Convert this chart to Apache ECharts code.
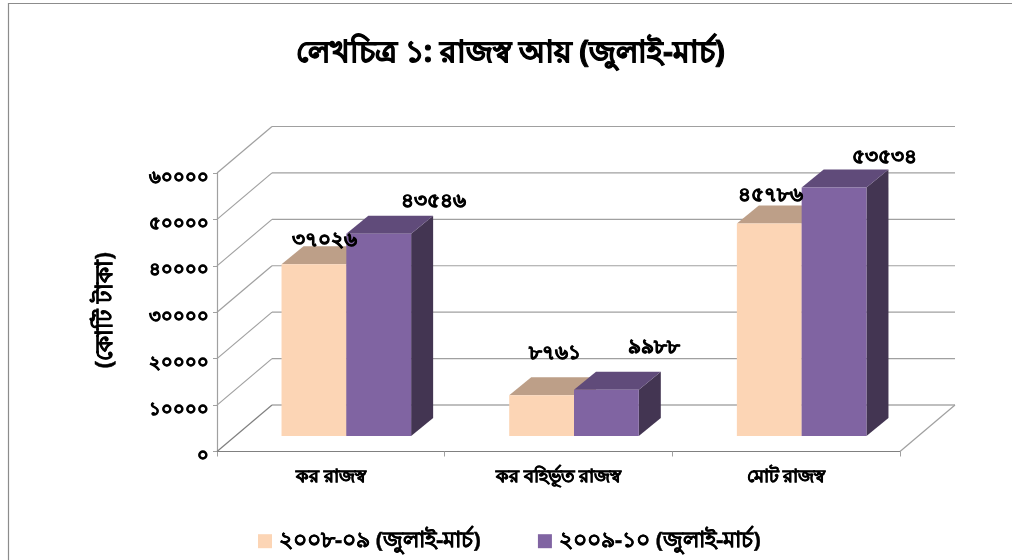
<!DOCTYPE html>
<html><head><meta charset="utf-8">
<style>html,body{margin:0;padding:0;background:#fff}#c{width:1012px;height:560px}</style>
<script src="https://cdn.jsdelivr.net/npm/echarts@6/dist/echarts.min.js"></script>
</head><body><div id="c"></div>
<script>
const categories = ['কর রাজস্ব', 'কর বহির্ভূত রাজস্ব', 'মোট রাজস্ব'];
const seriesNames = ['২০০৮-০৯ (জুলাই-মার্চ)', '২০০৯-১০ (জুলাই-মার্চ)'];
const values0809 = [37026, 8761, 45786];
const values0910 = [43546, 9988, 53534];
const labels0809 = ['৩৭০২৬', '৮৭৬১', '৪৫৭৮৬'];
const labels0910 = ['৪৩৫৪৬', '৯৯৮৮', '৫৩৫৩৪'];
const yTickValues = [0, 10000, 20000, 30000, 40000, 50000, 60000];
const yTickLabels = ['০', '১০০০০', '২০০০০', '৩০০০০', '৪০০০০', '৫০০০০', '৬০০০০'];
const titleText = 'লেখচিত্র ১: রাজস্ব আয় (জুলাই-মার্চ)';
const yAxisName = '(কোটি টাকা)';

const FONT = '"Noto Sans","Noto Sans CJK SC","DejaVu Sans",sans-serif';
const WALL = {dx: 55, dy: -46.5};
const BAR = {shift: 15.5, width: 64.8, depthX: 22, depthY: -18};
const GRID_COLOR = '#a0a0a0';
const labelNudge = [[[0, -6], [2, -24], [-10, -10]], [[44, -15], [36.5, -24], [39, -12]]];
const heavy = w => ({textBorderColor: '#000', textBorderWidth: w});

function renderWall(params, api) {
  const v = api.value(0);
  const p0 = api.coord([0, v]);
  const band = api.size([1, 0])[0];
  const left = p0[0] - band / 2;
  const right = left + band * 3;
  const y = p0[1];
  const style = {stroke: v === 0 ? '#808080' : GRID_COLOR, lineWidth: 1.2, fill: null};
  const children = [
    {type: 'line', shape: {x1: left, y1: y, x2: left + WALL.dx, y2: y + WALL.dy}, style},
    {type: 'line', shape: {x1: left + WALL.dx, y1: y + WALL.dy, x2: right + WALL.dx, y2: y + WALL.dy}, style}
  ];
  if (v === 0) children.push({type: 'line', shape: {x1: right, y1: y, x2: right + WALL.dx, y2: y + WALL.dy}, style: {stroke: GRID_COLOR, lineWidth: 1.2, fill: null}});
  return {type: 'group', children};
}

function makeBar(seriesIdx, front, top, side) {
  return function (params, api) {
    const cat = api.value(0), val = api.value(1);
    const c = api.coord([cat, val]);
    const b = api.coord([cat, 0]);
    const x0 = c[0] + BAR.shift + (seriesIdx === 0 ? -BAR.width : 0);
    const x1 = x0 + BAR.width;
    const yT = c[1] - BAR.shift, yB = b[1] - BAR.shift;
    const dx = BAR.depthX, dy = BAR.depthY;
    return {type: 'group', children: [
      {type: 'polygon', shape: {points: [[x1, yT], [x1 + dx, yT + dy], [x1 + dx, yB + dy], [x1, yB]]}, style: {fill: side}},
      {type: 'polygon', shape: {points: [[x0, yT], [x1, yT], [x1 + dx, yT + dy], [x0 + dx, yT + dy]]}, style: {fill: top}},
      {type: 'rect', shape: {x: x0, y: yT, width: BAR.width, height: yB - yT}, style: {fill: front}}
    ]};
  };
}

function makeLabel(seriesIdx, texts) {
  return function (params, api) {
    const cat = api.value(0), val = api.value(1);
    const c = api.coord([cat, val]);
    const n = labelNudge[seriesIdx][cat];
    const x0 = c[0] + BAR.shift + (seriesIdx === 0 ? -BAR.width / 2 : BAR.width / 2) + BAR.depthX / 2;
    const y = c[1] - BAR.shift + BAR.depthY;
    return {type: 'text', style: {x: x0 + n[0], y: y + n[1], text: texts[cat], fill: '#000', font: 'bold 20px ' + FONT, textAlign: 'center', textVerticalAlign: 'middle', stroke: '#000', lineWidth: 0.8}};
  };
}

const rows = a => a.map((v, i) => [i, v]);
const chart = echarts.init(document.getElementById('c'), null, {renderer: 'canvas'});
chart.setOption({
  animation: false,
  backgroundColor: '#fff',
  title: {text: titleText, left: 505.5, top: 34, textAlign: 'center', textStyle: {fontFamily: FONT, fontSize: 29.7, fontWeight: 'bold', color: '#000', ...heavy(1)}},
  legend: {left: 253, top: 525, itemWidth: 14, itemHeight: 14, itemGap: 57, icon: 'rect', data: seriesNames, textStyle: {fontFamily: FONT, fontSize: 22, fontWeight: 'bold', color: '#000', padding: [0, 0, 0, 2], ...heavy(0.4)}},
  grid: {left: 217, top: 173, width: 683, height: 278.5, containLabel: false},
  xAxis: {type: 'category', data: categories, axisLine: {lineStyle: {color: '#808080', width: 1.2}}, axisTick: {show: true, length: 5, alignWithLabel: false, lineStyle: {color: '#a0a0a0'}}, axisLabel: {margin: 17, fontFamily: FONT, fontSize: 17.5, fontWeight: 'bold', color: '#000', ...heavy(0.6)}, boundaryGap: true},
  yAxis: {type: 'value', min: 0, max: 60000, interval: 10000, name: yAxisName, nameLocation: 'middle', nameGap: 100, nameTextStyle: {fontFamily: FONT, fontSize: 22.5, fontWeight: 'bold', color: '#000', padding: [0, 0, 0, 4], ...heavy(0.5)}, splitLine: {show: false},
    axisLine: {show: true, lineStyle: {color: '#a0a0a0', width: 1.2}}, axisTick: {show: true, length: 4, lineStyle: {color: '#a0a0a0'}},
    axisLabel: {margin: 8, verticalAlign: 'top', lineHeight: 9, fontFamily: FONT, fontSize: 18, fontWeight: 'bold', color: '#000', ...heavy(0.8), formatter: v => yTickLabels[yTickValues.indexOf(v)]}},
  graphic: [{type: 'polyline', silent: true, z: -1, shape: {points: [[8.5, 560], [8.5, 3.5], [1012, 3.5]]}, style: {fill: null, stroke: '#8c8c8c', lineWidth: 1.2}}],
  series: [
    {name: 'wall', type: 'custom', coordinateSystem: 'cartesian2d', z: 1, clip: false, silent: true, data: yTickValues.map(v => [v]), encode: {y: 0}, renderItem: renderWall},
    {name: seriesNames[0], type: 'custom', z: 2, itemStyle: {color: '#FCD5B5'}, data: rows(values0809), encode: {x: 0, y: 1}, clip: false, renderItem: makeBar(0, '#FCD5B5', '#BD9F88', '#BD9F88')},
    {name: seriesNames[1], type: 'custom', z: 3, itemStyle: {color: '#8064A2'}, data: rows(values0910), encode: {x: 0, y: 1}, clip: false, renderItem: makeBar(1, '#8064A2', '#604B7A', '#433552')},
    {name: 'labels0809', type: 'custom', z: 5, data: rows(values0809), encode: {x: 0, y: 1}, clip: false, renderItem: makeLabel(0, labels0809)},
    {name: 'labels0910', type: 'custom', z: 5, data: rows(values0910), encode: {x: 0, y: 1}, clip: false, renderItem: makeLabel(1, labels0910)}
  ]
});
</script></body></html>
